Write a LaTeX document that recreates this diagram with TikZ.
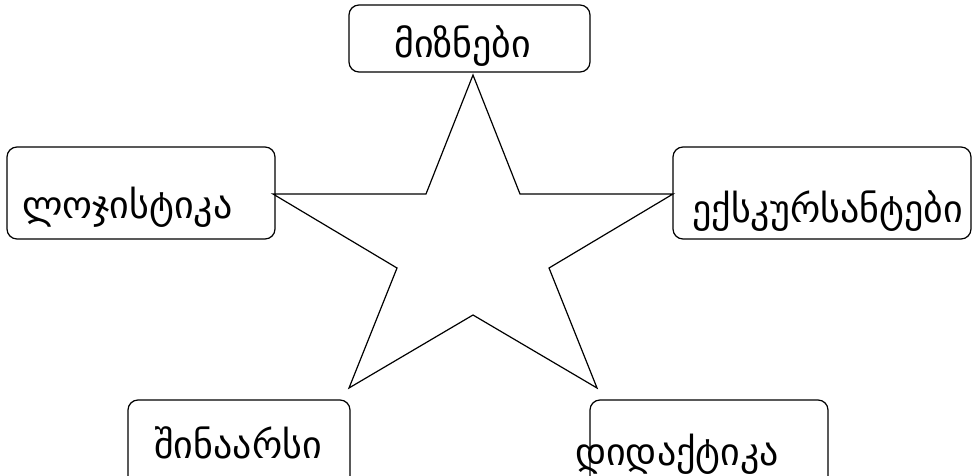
\documentclass[tikz,border=0pt]{standalone}
\usepackage{fontspec}
\newfontfamily\geofont{DejaVu Sans}
\tikzset{
  box/.style={draw, line width=1.2pt, rounded corners=10pt, inner sep=0pt},
  word/.style={anchor=base west, inner sep=0pt, font=\geofont\fontsize{38}{44}\selectfont}
}
\begin{document}
\begin{tikzpicture}[x=1pt, y=-1pt]
  \useasboundingbox (0,0) rectangle (972,476);
  \clip (0,0) rectangle (972,476);
  % Boxes
  \node[box, minimum width=241pt, minimum height=67pt] (goals) at (469.5,38.5) {};
  \node[box, minimum width=268pt, minimum height=92pt] (logistics) at (141,193) {};
  \node[box, minimum width=298pt, minimum height=92pt] (tourists) at (822,193) {};
  \node[box, minimum width=222pt, minimum height=92pt] (content) at (239,446) {};
  \node[box, minimum width=238pt, minimum height=92pt] (didactics) at (709,446) {};
  % Labels
  \node[word] (goalsText) at (394,58) {მიზნები};
  \node[word] (logisticsText) at (22,218) {ლოჯისტიკა};
  \node[word] (touristsText) at (692,222) {ექსკურსანტები};
  \node[word] (contentText) at (154,458) {შინაარსი};
  \node[word] (didacticsText) at (575,465) {დიდაქტიკა};
  % Star
  \draw[line width=1.2pt] (473,75) -- (520,194) -- (673,194) -- (549,268) -- (597,388)
    -- (473,315) -- (349,388) -- (397,268) -- (273,194) -- (426,194) -- cycle;
\end{tikzpicture}
\end{document}
